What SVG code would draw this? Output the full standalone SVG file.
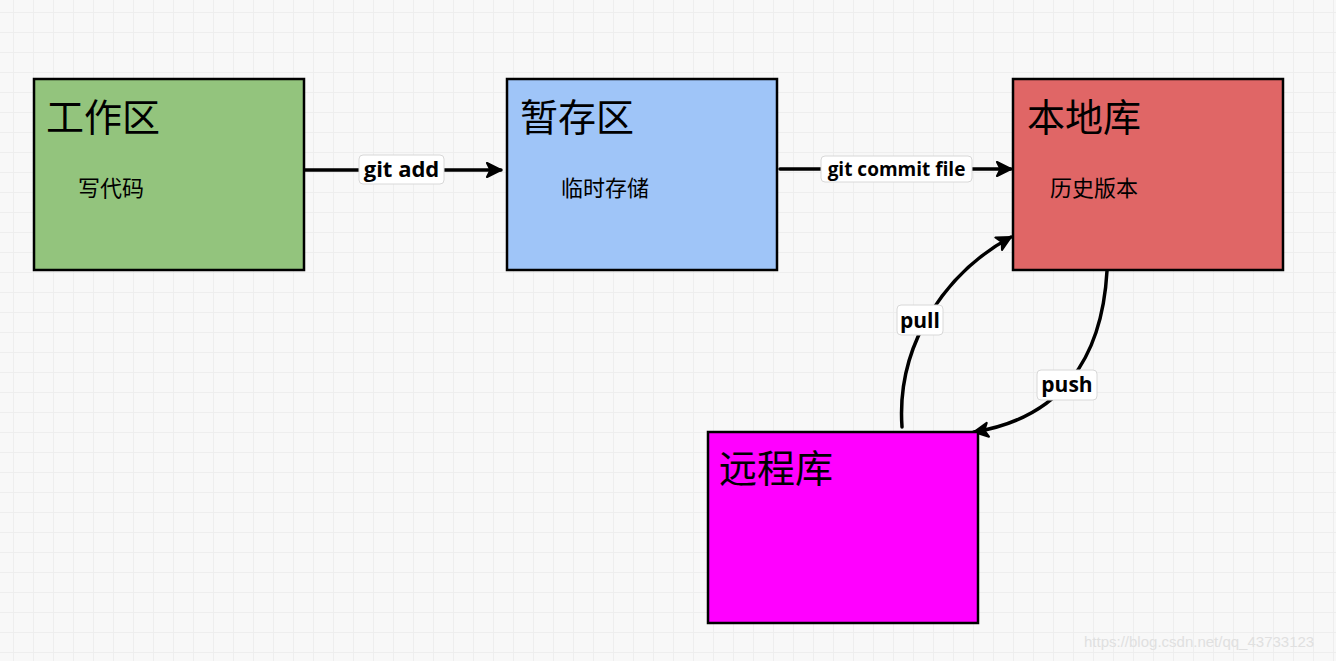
<svg xmlns="http://www.w3.org/2000/svg" width="1336" height="661" viewBox="0 0 1336 661">
<defs>
<pattern id="grid" x="13" y="12" width="20" height="20" patternUnits="userSpaceOnUse">
<path d="M0,0 H20 M0,0 V20" fill="none" stroke="#ececec" stroke-width="1.5"/>
</pattern>
<marker id="arr" viewBox="0 0 10 10" refX="9" refY="5" markerWidth="5" markerHeight="5" orient="auto" markerUnits="strokeWidth">
<path d="M1,1 L9,5 L1,9 L3,5 Z" fill="#000" stroke="#000" stroke-width="1.2" stroke-linejoin="round"/>
</marker>
<style>
.box{stroke:#000;stroke-width:2.5}
.title{font-family:"Noto Sans CJK SC",sans-serif;font-size:38px;fill:#000}
.sub{font-family:"Noto Sans CJK SC",sans-serif;font-size:22px;fill:#000}
.edge{fill:none;stroke:#000;stroke-width:3.5;stroke-linecap:round}
.lbl{fill:#fff;stroke:#d8d8d8;stroke-width:1}
.lt{font-family:"Open Sans","Noto Sans",sans-serif;font-weight:bold;fill:#000;text-anchor:middle}
.wm{font-family:"Liberation Sans",sans-serif;font-size:15px;fill:#e0e0e0}
</style>
</defs>
<rect width="1336" height="661" fill="#f8f8f8"/>
<rect width="1336" height="661" fill="url(#grid)"/>
<g id="connectors">
<path class="edge" d="M302,170 H501" marker-end="url(#arr)"/>
<path class="edge" d="M780,169 H1011" marker-end="url(#arr)"/>
<path class="edge" d="M902,427 C896,340 950,270 1011,237" marker-end="url(#arr)"/>
<path class="edge" d="M1107,271 C1102,360 1060,418 974,432" marker-end="url(#arr)"/>
<rect class="lbl" x="359" y="155" width="85" height="29" rx="4"/>
<text class="lt" x="401.5" y="177" style="font-size:22px">git add</text>
<rect class="lbl" x="821" y="156" width="151" height="26" rx="4"/>
<text class="lt" x="896.5" y="175.5" style="font-size:19px">git commit file</text>
<rect class="lbl" x="897" y="305" width="46" height="30" rx="4"/>
<text class="lt" x="920" y="328" style="font-size:21px">pull</text>
<rect class="lbl" x="1037" y="370" width="60" height="30" rx="4"/>
<text class="lt" x="1067" y="392" style="font-size:21px">push</text>
</g>
<g id="workspace">
<rect class="box" x="34" y="79" width="270" height="191" fill="#93c47d"/>
<text class="title" x="46" y="131">工作区</text>
<text class="sub" x="78" y="196">写代码</text>
</g>
<g id="staging">
<rect class="box" x="507" y="79" width="270" height="191" fill="#9fc5f8"/>
<text class="title" x="520" y="131">暂存区</text>
<text class="sub" x="561" y="196">临时存储</text>
</g>
<g id="local">
<rect class="box" x="1013" y="79" width="270" height="191" fill="#e06666"/>
<text class="title" x="1027" y="131">本地库</text>
<text class="sub" x="1050" y="196">历史版本</text>
</g>
<g id="remote">
<rect class="box" x="708" y="432" width="270" height="191" fill="#ff00ff"/>
<text class="title" x="719" y="482">远程库</text>
</g>
<text class="wm" x="1084" y="647">https://blog.csdn.net/qq_43733123</text>
</svg>
